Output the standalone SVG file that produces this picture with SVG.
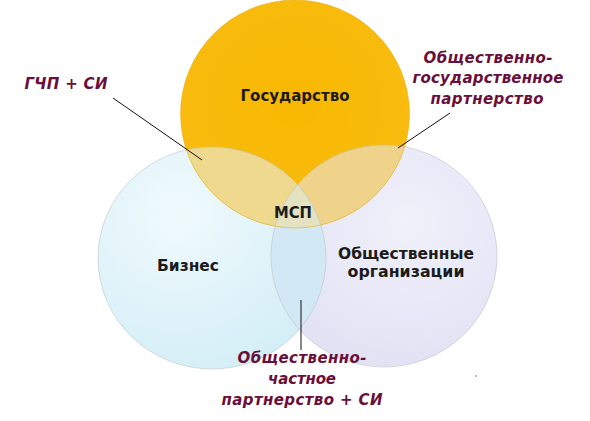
<svg xmlns="http://www.w3.org/2000/svg" width="590" height="421" viewBox="0 0 590 421">
<style>
.lbl{font-family:"DejaVu Sans","Liberation Sans",sans-serif;font-weight:bold;fill:#1b1b1b;font-size:15px;text-anchor:middle}
.note{font-family:"DejaVu Sans","Liberation Sans",sans-serif;font-weight:bold;font-style:italic;fill:#6a0f3a;font-size:15px;text-anchor:middle}
.edge{fill:none;stroke:#bfc3c6;stroke-width:1;stroke-opacity:0.6}
.lead{stroke:#111;stroke-width:1;fill:none}
</style>
<defs>
<radialGradient id="gTop" cx="0.5" cy="0.45" r="0.55">
<stop offset="0" stop-color="#f9b800"/><stop offset="1" stop-color="#f8bc10"/>
</radialGradient>
<radialGradient id="gLeft" cx="0.35" cy="0.3" r="0.75">
<stop offset="0" stop-color="#f0fafd"/><stop offset="1" stop-color="#d4eef7"/>
</radialGradient>
<radialGradient id="gRight" cx="0.6" cy="0.35" r="0.75">
<stop offset="0" stop-color="#f1f1fb"/><stop offset="1" stop-color="#e0e0f4"/>
</radialGradient>
<clipPath id="cTop"><ellipse cx="295" cy="114" rx="114.5" ry="114"/></clipPath>
<clipPath id="cLeft"><ellipse cx="212" cy="258" rx="114" ry="111"/></clipPath>
<clipPath id="cRight"><ellipse cx="384" cy="256" rx="113" ry="111"/></clipPath>
</defs>
<rect width="590" height="421" fill="#ffffff"/>
<g id="biznes">
<ellipse cx="212" cy="258" rx="114" ry="111" fill="url(#gLeft)"/>
</g>
<g id="obshch-org">
<ellipse cx="384" cy="256" rx="113" ry="111" fill="url(#gRight)"/>
</g>
<g id="lens-lr" clip-path="url(#cLeft)">
<ellipse cx="384" cy="256" rx="113" ry="111" fill="#d3e8f5"/>
</g>
<g id="gosudarstvo">
<ellipse cx="295" cy="114" rx="114.5" ry="114" fill="url(#gTop)"/>
</g>
<g id="lens-tl" clip-path="url(#cTop)">
<ellipse cx="212" cy="258" rx="114" ry="111" fill="#eed98e"/>
</g>
<g id="lens-tr" clip-path="url(#cTop)">
<ellipse cx="384" cy="256" rx="113" ry="111" fill="#f0d38b"/>
</g>
<g id="msp" clip-path="url(#cTop)">
<g clip-path="url(#cLeft)">
<ellipse cx="384" cy="256" rx="113" ry="111" fill="#e4e2c0"/>
</g>
</g>
<g id="edges">
<ellipse class="edge" cx="212" cy="258" rx="114" ry="111"/>
<ellipse class="edge" cx="384" cy="256" rx="113" ry="111"/>
<ellipse cx="295" cy="114" rx="114.5" ry="114" fill="none" stroke="#e0a800" stroke-opacity="0.45"/>
</g>
<g id="labels">
<text class="lbl" x="295" y="101" textLength="109" lengthAdjust="spacingAndGlyphs">Государство</text>
<text class="lbl" x="293" y="218" font-size="16" textLength="38" lengthAdjust="spacingAndGlyphs">МСП</text>
<text class="lbl" x="188" y="271" textLength="62" lengthAdjust="spacingAndGlyphs">Бизнес</text>
<text class="lbl" x="406" y="259" textLength="136" lengthAdjust="spacingAndGlyphs">Общественные</text>
<text class="lbl" x="406" y="277" textLength="117" lengthAdjust="spacingAndGlyphs">организации</text>
</g>
<g id="connectors">
<line class="lead" x1="113" y1="98" x2="202" y2="160"/>
<line class="lead" x1="450" y1="113" x2="398" y2="148"/>
<line class="lead" x1="301" y1="300" x2="301" y2="350"/>
</g>
<g id="notes">
<text class="note" x="66" y="89" font-size="16" textLength="83" lengthAdjust="spacing">ГЧП + СИ</text>
<text class="note" x="488" y="63" textLength="129" lengthAdjust="spacing">Общественно-</text>
<text class="note" x="488" y="83" textLength="151" lengthAdjust="spacing">государственное</text>
<text class="note" x="487" y="104" textLength="113" lengthAdjust="spacing">партнерство</text>
<text class="note" x="302" y="363" textLength="129" lengthAdjust="spacing">Общественно-</text>
<text class="note" x="302" y="384" textLength="68" lengthAdjust="spacing">частное</text>
<text class="note" x="302" y="405" textLength="161" lengthAdjust="spacing">партнерство + СИ</text>
</g>
<circle cx="476" cy="376" r="0.7" fill="#444"/>
</svg>
